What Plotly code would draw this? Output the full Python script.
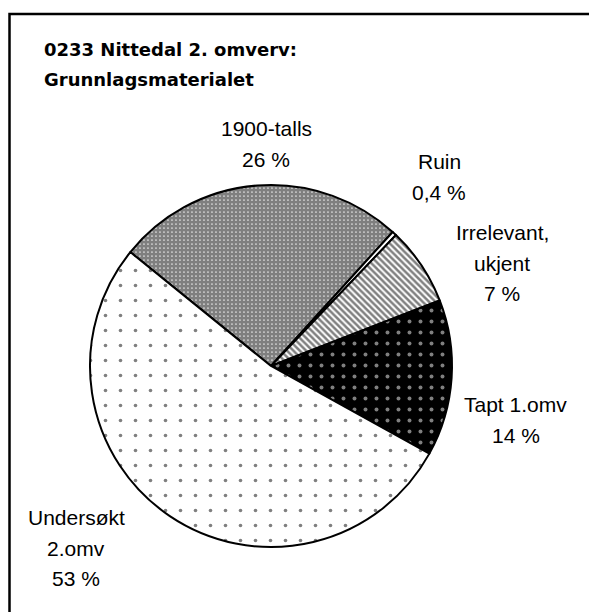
import plotly.graph_objects as go

# data
categories = ["1900-talls", "Ruin", "Irrelevant,<br>ukjent", "Tapt 1.omv", "Undersøkt<br>2.omv"]
values = [26, 0.4, 7, 14, 53]
pct_labels = ["26 %", "0,4 %", "7 %", "14 %", "53 %"]

# label placement (pixels from top-left of the page) and slice styling
label_pos = [(266, 144), (439, 177), (502, 263), (516, 420), (76, 548)]
shapes = [".", "", "\\", ".", "."]
fg = ["black", "white", "black", "white", "black"]
bg = ["white", "white", "white", "black", "white"]
sizes = [4, 8, 4.5, 11, 15]
solid = [0.82, 0.1, 0.55, 0.1, 0.045]

W, H = 597, 612
OFF = 8  # page body margin
font = "Liberation Sans, Arial, sans-serif"
LINE = 30.5


def px(x):
    return (x - OFF) / W


def py(y):
    return 1 - (y - OFF) / H


fig = go.Figure(
    go.Pie(
        labels=categories,
        values=values,
        sort=False,
        direction="clockwise",
        rotation=-51,
        textinfo="none",
        hoverinfo="label+percent",
        domain=dict(x=[px(90), px(452)], y=[py(547), py(185)]),
        marker=dict(
            colors=bg,
            line=dict(color="black", width=2),
            pattern=dict(
                shape=shapes,
                fgcolor=fg,
                bgcolor=bg,
                size=sizes,
                solidity=solid,
                fillmode="overlay",
            ),
        ),
        showlegend=False,
    )
)

annotations = []
title_lines = ["0233 Nittedal 2. omverv:", "Grunnlagsmaterialet"]
for i, t in enumerate(title_lines):
    annotations.append(dict(
        text=t, x=px(42), y=py(50 + i * 29), xref="paper", yref="paper",
        xanchor="left", yanchor="middle", showarrow=False,
        font=dict(family="DejaVu Sans", size=18, color="black", weight="bold"),
    ))

for name, pct, (cx, cy) in zip(categories, pct_labels, label_pos):
    lines = name.split("<br>") + [pct]
    n = len(lines)
    for i, t in enumerate(lines):
        annotations.append(dict(
            text=t, x=px(cx), y=py(cy + (i - (n - 1) / 2) * LINE),
            xref="paper", yref="paper",
            xanchor="center", yanchor="middle", showarrow=False,
            font=dict(family=font, size=21, color="black"),
        ))

fig.update_layout(
    width=W,
    height=H,
    margin=dict(l=0, r=0, t=0, b=0),
    paper_bgcolor="white",
    plot_bgcolor="white",
    annotations=annotations,
    shapes=[dict(
        type="rect", xref="paper", yref="paper",
        x0=px(9.5), x1=1.2, y0=-0.2, y1=py(14),
        line=dict(color="black", width=2.5),
    )],
)

fig.write_html("out.html")
